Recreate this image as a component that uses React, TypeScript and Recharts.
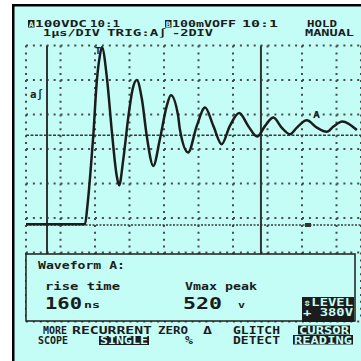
import React from 'react';
import { LineChart, Line, XAxis, YAxis, CartesianGrid, ReferenceLine } from 'recharts';

// time in microseconds (1 µs / division), voltage of channel A in volts (100 V / division)
const timeUs = [0, 1.71, 1.78, 1.86, 1.95, 2.05, 2.14, 2.2, 2.35, 2.49, 2.63, 2.7, 2.82, 2.97, 3.09, 3.21, 3.36, 3.5, 3.69, 3.88, 4.08, 4.2, 4.41, 4.46, 4.7, 4.95, 5.19, 5.43, 5.67, 5.91, 6.18, 6.44, 6.7, 6.93, 7.17, 7.41, 7.65, 7.85, 8.14, 8.43, 8.72, 8.91, 9.17, 9.59];
const voltsA = [2, 2, 55, 142, 258, 414, 490, 515, 422, 269, 142, 115, 190, 316, 393, 420, 364, 258, 171, 248, 345, 376, 316, 277, 210, 287, 340, 287, 234, 287, 324, 287, 256, 287, 311, 282, 263, 282, 303, 282, 270, 285, 300, 275];

const timeTicks = [0, 1, 2, 3, 4, 5, 6, 7, 8, 9];
const voltTicks = [-80, 20, 120, 220, 320, 420, 520];
const timeDomain = [0, 9.71];
const voltDomain = [-280, 520];
const cursorTimes = [0.609, 6.81];
const groundLevel = 0;
const zeroRefLevel = 260;

const headerA = ['A', '100VDC', '10:1'];
const headerB = ['B', '100mVOFF', '10:1'];
const headerTime = ['1µs/DIV', 'TRIG:A∫', '-2DIV'];
const headerMode = ['HOLD', 'MANUAL'];
const readingTitle = 'Waveform A:';
const readingNames = ['rise time', 'Vmax peak'];
const readingValues = ['160', '520'];
const readingUnits = ['ns', 'v'];
const levelLabel = ['⇕LEVEL', '+ 380V'];
const menuLabels = [['MORE', 'SCOPE'], ['RECURRENT', 'SINGLE'], ['ZERO', 'Δ', '%'], ['GLITCH', 'DETECT'], ['CURSOR', 'READING']];

const data = timeUs.map((t, i) => ({ t, v: voltsA[i] }));

const CYAN = '#c4fdf6';
const INK = '#1c1c1c';
const FONT = '"DejaVu Sans Mono", monospace';

function Txt({ x, y, w, size = 10, fill = INK, weight = 'bold', children }: any) {
  return (
    <text x={x} y={y} fontFamily={FONT} fontSize={size} fontWeight={weight} fill={fill}
      textLength={w} lengthAdjust="spacingAndGlyphs">{children}</text>
  );
}

export default function App() {
  return (
    <div style={{ position: 'absolute', left: 0, top: 0, width: 361, height: 361, background: '#ffffff', overflow: 'hidden' }}>
      <svg width={361} height={361} style={{ position: 'absolute', left: 0, top: 0 }}>
        <rect x={12} y={4} width={349} height={357} fill={CYAN} />
        <rect x={12} y={4} width={2.5} height={357} fill="#000" />
        <rect x={12} y={4} width={349} height={2.5} fill="#000" />
      </svg>
      <div style={{ position: 'absolute', left: 0, top: 0 }}>
        <LineChart width={361} height={361} data={data} margin={{ top: 45.5, right: 0, bottom: 39.5, left: 26 }}>
          <XAxis type="number" dataKey="t" domain={timeDomain} ticks={timeTicks} hide allowDataOverflow />
          <YAxis type="number" domain={voltDomain} ticks={voltTicks} hide allowDataOverflow />
          <CartesianGrid stroke="#4a4a4a" strokeWidth={2} strokeDasharray="2 4.9" />
          <ReferenceLine y={groundLevel} stroke="#3a3a3a" strokeWidth={1.5} strokeDasharray="2 1.5" />
          <ReferenceLine y={zeroRefLevel} stroke="#3a3a3a" strokeWidth={1.5} strokeDasharray="3 1.5" />
          {cursorTimes.map((c) => (
            <ReferenceLine key={c} x={c} stroke="#333" strokeWidth={2} />
          ))}
          <Line type="monotone" dataKey="v" stroke={INK} strokeWidth={2.5} dot={false} isAnimationActive={false} />
        </LineChart>
      </div>
      <svg width={361} height={361} style={{ position: 'absolute', left: 0, top: 0 }}>
        {/* header */}
        <rect x={28} y={20} width={6.5} height={7.5} fill={INK} />
        <Txt x={28.8} y={26.8} w={5} size={7.5} fill={CYAN}>{headerA[0]}</Txt>
        <Txt x={35} y={27} w={52} size={9}>{headerA[1]}</Txt>
        <Txt x={90} y={27} w={30} size={9}>{headerA[2]}</Txt>
        <rect x={165} y={20} width={6.5} height={7.5} fill={INK} />
        <Txt x={165.8} y={26.8} w={5} size={7.5} fill={CYAN}>{headerB[0]}</Txt>
        <Txt x={172} y={27} w={64} size={9}>{headerB[1]}</Txt>
        <Txt x={242} y={27} w={36} size={9}>{headerB[2]}</Txt>
        <Txt x={43} y={35.5} w={57} size={9}>{headerTime[0]}</Txt>
        <Txt x={107} y={35.5} w={60} size={9}>{headerTime[1]}</Txt>
        <Txt x={172} y={35.5} w={41} size={9}>{headerTime[2]}</Txt>
        <Txt x={307} y={27} w={30} size={9}>{headerMode[0]}</Txt>
        <Txt x={305} y={35.5} w={49} size={9}>{headerMode[1]}</Txt>
        {/* markers */}
        <Txt x={95} y={54} w={6} size={8}>T</Txt>
        <Txt x={30} y={98} w={13} size={10}>a∫</Txt>
        <Txt x={313} y={118} w={7} size={9}>A</Txt>
        <rect x={305} y={223} width={6} height={4} fill="#333" />
        {/* reading box */}
        <rect x={26} y={254} width={329} height={67} fill={CYAN} stroke={INK} strokeWidth={1.5} />
        <Txt x={38} y={269} w={87}>{readingTitle}</Txt>
        <Txt x={45} y={290} w={75}>{readingNames[0]}</Txt>
        <Txt x={185} y={290} w={72}>{readingNames[1]}</Txt>
        <Txt x={45} y={308.5} w={37} size={15}>{readingValues[0]}</Txt>
        <Txt x={84} y={308} w={16} size={9}>{readingUnits[0]}</Txt>
        <Txt x={183} y={308.5} w={39} size={15}>{readingValues[1]}</Txt>
        <Txt x={238} y={308} w={7} size={9}>{readingUnits[1]}</Txt>
        <rect x={302} y={297} width={52} height={25} fill={INK} />
        <Txt x={303} y={306} w={50} fill={CYAN}>{levelLabel[0]}</Txt>
        <Txt x={303} y={316} w={50} fill={CYAN}>{levelLabel[1]}</Txt>
        {/* menu */}
        <Txt x={43} y={334} w={24}>{menuLabels[0][0]}</Txt>
        <Txt x={38} y={344} w={30}>{menuLabels[0][1]}</Txt>
        <Txt x={72} y={334} w={80}>{menuLabels[1][0]}</Txt>
        <rect x={99} y={336} width={50} height={9} fill={INK} />
        <Txt x={100} y={344} w={48} fill={CYAN}>{menuLabels[1][1]}</Txt>
        <Txt x={158} y={334} w={30}>{menuLabels[2][0]}</Txt>
        <Txt x={203} y={334} w={9}>{menuLabels[2][1]}</Txt>
        <Txt x={185} y={344} w={8}>{menuLabels[2][2]}</Txt>
        <Txt x={233} y={334} w={47}>{menuLabels[3][0]}</Txt>
        <Txt x={233} y={344} w={47}>{menuLabels[3][1]}</Txt>
        <rect x={298} y={325.5} width={52} height={9} fill={INK} />
        <Txt x={299} y={334} w={50} fill={CYAN}>{menuLabels[4][0]}</Txt>
        <rect x={293} y={335} width={60} height={9.5} fill={INK} />
        <Txt x={294} y={344} w={58} fill={CYAN}>{menuLabels[4][1]}</Txt>
      </svg>
    </div>
  );
}
